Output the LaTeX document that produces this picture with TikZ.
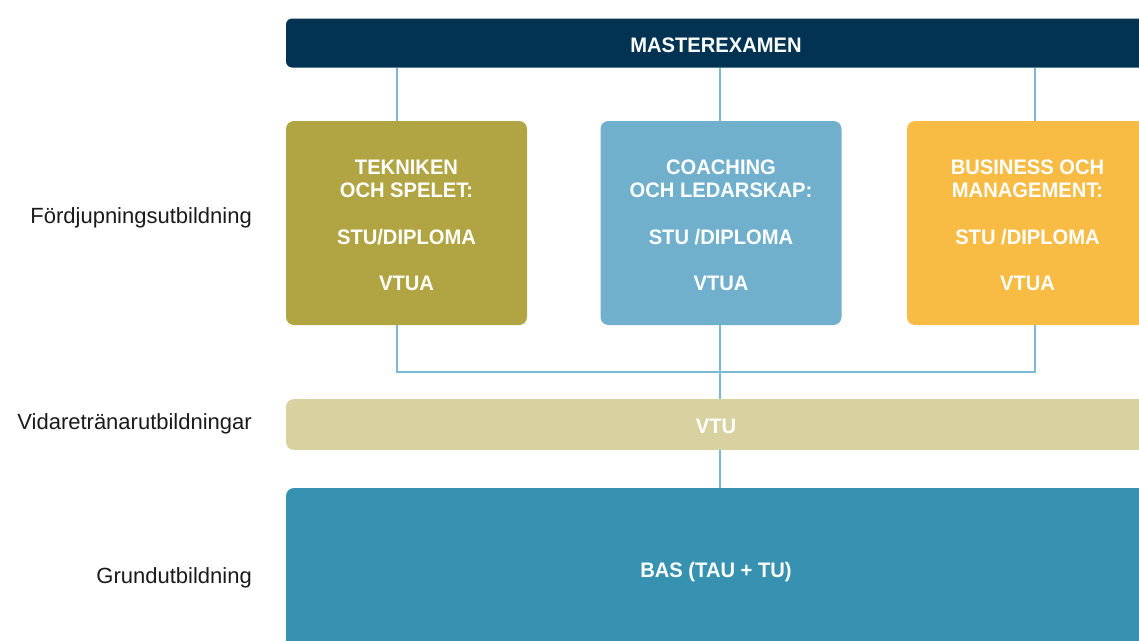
\documentclass[tikz,border=0pt]{standalone}
\usepackage{fontspec}
\setmainfont{Liberation Sans}
\newfontfamily\boxfont[FakeStretch=0.96]{Liberation Sans Bold}
\usetikzlibrary{backgrounds,calc}
\definecolor{navy}{HTML}{023352}
\definecolor{olivebox}{HTML}{B0A443}
\definecolor{bluebox}{HTML}{70B0CC}
\definecolor{orangebox}{HTML}{F8BC45}
\definecolor{beigebar}{HTML}{D8D1A0}
\definecolor{tealbox}{HTML}{3692B0}
\definecolor{linec}{HTML}{7AB8D4}
\definecolor{labc}{HTML}{1A1A1A}
\newcommand{\topstrut}{\rule{0pt}{19pt}}
\begin{document}
\begin{tikzpicture}[x=1pt,y=-1pt,
  conn/.style={draw=linec, line width=2pt},
  box/.style={rounded corners=8pt, inner sep=0pt, text=white,
    font=\boxfont\fontsize{21}{23.3}\selectfont, align=center},
  field/.style={box, minimum width=241pt, minimum height=204pt},
  bar/.style={box, minimum width=860pt},
  lab/.style={anchor=base east, text=labc, font=\fontsize{22}{26}\selectfont, inner sep=0pt}]
\useasboundingbox (0,0) rectangle (1139,640);
\clip (0,0) rectangle (1139,640);
\node[bar, fill=navy, minimum height=49pt, rounded corners=6pt] (master) at (716,43) {\topstrut MASTEREXAMEN};
\node[field, fill=olivebox] (t1) at (406.5,223) {\topstrut TEKNIKEN\\OCH SPELET:\\[23.3pt]STU/DIPLOMA\\[23.3pt]VTUA};
\node[field, fill=bluebox] (t2) at (721,223) {\topstrut COACHING\\OCH LEDARSKAP:\\[23.3pt]STU /DIPLOMA\\[23.3pt]VTUA};
\node[field, fill=orangebox] (t3) at (1027.5,223) {\topstrut BUSINESS OCH\\MANAGEMENT:\\[23.3pt]STU /DIPLOMA\\[23.3pt]VTUA};
\node[bar, fill=beigebar, minimum height=51pt] (vtu) at (716,424.5) {\topstrut VTU};
\node[bar, fill=tealbox, minimum height=164pt] (bas) at (716,570) {\topstrut BAS (TAU + TU)};
\node[lab] (l1) at (252,223.3) {Fördjupningsutbildning};
\node[lab] (l2) at (252,429) {Vidaretränarutbildningar};
\node[lab] (l3) at (252,583) {Grundutbildning};
\coordinate (c1) at (397,0);
\coordinate (c2) at (720,0);
\coordinate (c3) at (1035,0);
\coordinate (h) at (0,372);
\begin{scope}[on background layer]
\draw[conn] (master.south -| c1) -- (t1.north -| c1);
\draw[conn] (master.south -| c2) -- (t2.north -| c2);
\draw[conn] (master.south -| c3) -- (t3.north -| c3);
\draw[conn] (t1.south -| c1) |- (h -| c3) -- (t3.south -| c3);
\draw[conn] (t2.south -| c2) -- (bas.north -| c2);
\end{scope}
\end{tikzpicture}
\end{document}
